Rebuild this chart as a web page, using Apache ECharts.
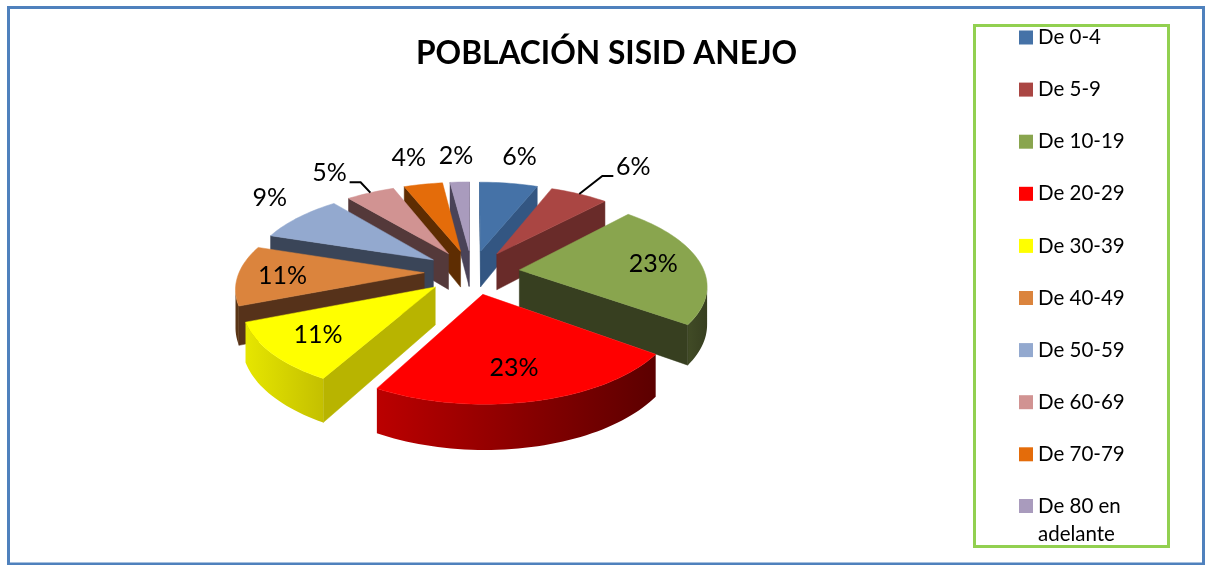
<!DOCTYPE html>
<html>
<head>
<meta charset="utf-8">
<script src="https://cdn.jsdelivr.net/npm/echarts@6/dist/echarts.min.js"></script>
<style>
    html, body { margin: 0; background: #fff; }
    #main { width: 1205px; height: 565px; }
</style>
</head>
<body>
<div id="main"></div>
<script>
const categories = ['De 0-4', 'De 5-9', 'De 10-19', 'De 20-29', 'De 30-39', 'De 40-49', 'De 50-59', 'De 60-69', 'De 70-79', 'De 80 en adelante'];
const shares = [6, 6, 23, 23, 11, 11, 9, 5, 4, 2];

const topColors = ['#4572a7', '#aa4643', '#89a54e', '#ff0000', '#ffff00', '#db843d', '#93a9cf', '#d19392', '#e46c0a', '#a99bbd'];
const sideColors = ['#335682', '#692b29', '#373f20', '#8c0000', '#b8b400', '#56321a', '#3a4558', '#54393a', '#5e2d02', '#4a4358'];
const wallLeft = ['#335682', '#692b29', '#414b26', '#bb0000', '#e6e600', '#5a3516', '#3a4558', '#54393a', '#5e2d02', '#4a4358'];
const wallRight = ['#335682', '#692b29', '#373f20', '#5c0000', '#c4c000', '#5a3516', '#3a4558', '#54393a', '#5e2d02', '#4a4358'];

// label distance from the slice tip, in pie radii, and small turn in degrees
const labelRadius = [1.47, 1.6, 0.74, 0.72, 0.74, 0.76, 1.35, 1.43, 1.47, 1.47];
const labelTurn = [0, 3.4, 0, 1.6, 0, -0.8, 5, -3.6, 0, 0];
const leaderSlices = [1, 7];

// projection of the tilted pie
const view = { cx: 472, cy: 272, rx: 185, ry: 85.4, persp: 0.153, depth: 37, explode: 0.258 };

const total = shares.reduce((a, b) => a + b, 0);
const slices = [];
let running = 0;
shares.forEach((share, i) => {
    const start = running / total * Math.PI * 2;
    running += share;
    const end = running / total * Math.PI * 2;
    const mid = (start + end) / 2;
    slices.push({ index: i, start, end, mid, ox: Math.sin(mid) * view.explode, oy: Math.cos(mid) * view.explode });
});

function project(x, y, drop) {
    const d = 1 + view.persp * y;
    return [view.cx + view.rx * x / d, view.cy - view.ry * y / d + (drop ? view.depth / d : 0)];
}

function polar(s, angle, r, drop) {
    return project(s.ox + Math.sin(angle) * r, s.oy + Math.cos(angle) * r, drop);
}

function poly(points, fill) {
    return {
        type: 'polygon',
        shape: { points },
        style: { fill, stroke: fill, lineWidth: 0.5 }
    };
}

function renderSlice(s) {
    const i = s.index;
    const steps = Math.max(2, Math.ceil((s.end - s.start) / 0.03));
    const arc = [];
    const arcLow = [];
    for (let k = 0; k <= steps; k++) {
        const a = s.start + (s.end - s.start) * k / steps;
        arc.push(polar(s, a, 1, false));
        arcLow.push(polar(s, a, 1, true));
    }
    const tip = polar(s, 0, 0, false);
    const tipLow = polar(s, 0, 0, true);
    const children = [];

    // walls: only edges running leftwards on the screen face the viewer
    if (arc[0][0] < tip[0]) {
        children.push(poly([tip, arc[0], arcLow[0], tipLow], sideColors[i]));
    }
    const front = [];
    const frontLow = [];
    for (let k = 0; k <= steps; k++) {
        const facing = (k < steps && arc[k + 1][0] < arc[k][0]) || (k > 0 && arc[k][0] < arc[k - 1][0]);
        if (facing) {
            front.push(arc[k]);
            frontLow.push(arcLow[k]);
        }
    }
    if (front.length > 1) {
        children.push({
            type: 'polygon',
            shape: { points: front.concat(frontLow.reverse()) },
            style: {
                fill: {
                    type: 'linear', x: 0, y: 0, x2: 1, y2: 0,
                    colorStops: [{ offset: 0, color: wallLeft[i] }, { offset: 1, color: wallRight[i] }]
                }
            }
        });
    }
    const last = arc[arc.length - 1];
    if (tip[0] < last[0]) {
        children.push(poly([last, tip, tipLow, arcLow[arcLow.length - 1]], sideColors[i]));
    }

    children.push(poly([tip].concat(arc), topColors[i]));

    const labelAngle = s.mid + labelTurn[i] * Math.PI / 180;
    const labelPos = polar(s, labelAngle, labelRadius[i], false);
    if (leaderSlices.includes(i)) {
        const side = labelPos[0] > view.cx ? -1 : 1;
        const end = [labelPos[0] + side * 20, labelPos[1] + 9];
        const knee = [end[0] + side * 11, end[1]];
        children.push({
            type: 'polyline',
            shape: { points: [polar(s, s.mid, 1, false), knee, end] },
            style: { stroke: '#000', lineWidth: 2, fill: null }
        });
    }
    children.push({
        type: 'text',
        style: {
            text: shares[i] + '%',
            x: labelPos[0],
            y: labelPos[1],
            align: 'center',
            verticalAlign: 'middle',
            font: '25px Lato',
            fill: '#000'
        }
    });
    return { type: 'group', children };
}

// far slices first so the near ones paint over them
const drawOrder = slices.slice().sort((a, b) => b.oy - a.oy);

const legendText = { fontFamily: 'Lato', fontSize: 20.5, color: '#000' };
const legendBase = {
    orient: 'vertical',
    left: 1019,
    padding: 0,
    icon: 'rect',
    itemWidth: 14,
    itemHeight: 14,
    selectedMode: false,
    textStyle: legendText
};

const chart = echarts.init(document.getElementById('main'));
chart.setOption({
    animation: false,
    backgroundColor: '#fff',
    title: {
        text: 'POBLACIÓN SISID ANEJO',
        left: 416,
        top: 38,
        padding: 0,
        textStyle: { fontFamily: 'Lato', fontWeight: 'bold', fontSize: 31.7, color: '#000' }
    },
    legend: [
        Object.assign({}, legendBase, {
            top: 27,
            height: 530,
            itemGap: 31.1,
            data: categories.slice(0, -1)
        }),
        // long last entry: blank first line keeps the marker beside "De 80 en"
        Object.assign({}, legendBase, {
            top: 464,
            formatter: name => '\n' + name.replace(' en ', ' en\n'),
            textStyle: Object.assign({}, legendText, { lineHeight: 28 }),
            data: categories.slice(-1)
        })
    ],
    graphic: [
        { type: 'rect', z: -1, shape: { x: 8.5, y: 7.5, width: 1195, height: 556.5 }, style: { fill: null, stroke: '#4f81bd', lineWidth: 3 } },
        { type: 'rect', z: -1, shape: { x: 974.5, y: 25.5, width: 194, height: 521 }, style: { fill: null, stroke: '#92d050', lineWidth: 3 } }
    ],
    series: drawOrder.map(s => ({
        type: 'custom',
        name: categories[s.index],
        coordinateSystem: 'none',
        silent: true,
        itemStyle: { color: topColors[s.index] },
        data: [shares[s.index]],
        renderItem: () => renderSlice(s)
    }))
});
</script>
</body>
</html>
